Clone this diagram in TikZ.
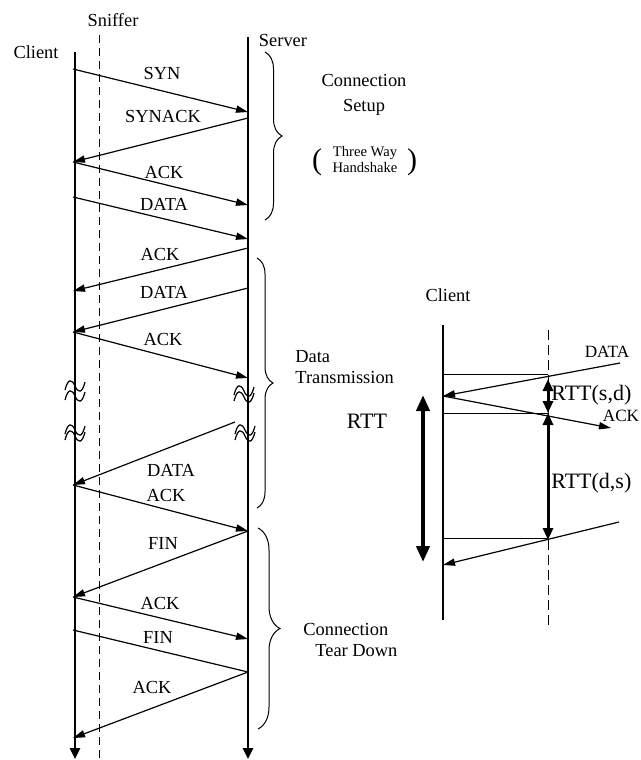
\documentclass[tikz,border=0pt]{standalone}
\usepackage{fontspec}
\setmainfont{Liberation Serif}
\usetikzlibrary{arrows.meta,decorations.pathreplacing}

\tikzset{
  lifeline/.style={line width=1.3pt,-{Triangle[length=5.5pt,width=5pt]}},
  sniff/.style={line width=0.5pt,dash pattern=on 4pt off 2.5pt},
  msg/.style={line width=0.6pt,-{Triangle[length=6pt,width=3.6pt]}},
  msglabel/.style={font=\fontsize{9.2}{11}\selectfont,inner sep=0pt},
  rttlabel/.style={font=\fontsize{11}{13}\selectfont,inner sep=0pt},
  phase/.style={line width=0.5pt,decorate,decoration={brace,amplitude=#1}},
  rttarrow/.style={line width=1.5pt,{Triangle[length=6pt,width=5pt]}-{Triangle[length=6pt,width=5pt]}},
  pics/cut/.style={code={\draw[line width=0.6pt] (-10,4) .. controls (-7,-8) and (-3,-7) .. (0,0) .. controls (3,7) and (7,8) .. (10,-4);}}
}

\begin{document}
\begin{tikzpicture}[x=0.5pt,y=-0.5pt]
  \useasboundingbox (0,0) rectangle (641,760);
  % lifelines
  \node[msglabel] (sniffer) at (113,20) {Sniffer};
  \node[msglabel] (client) at (36,52) {Client};
  \node[msglabel] (server) at (283,40) {Server};
  \coordinate (ctop) at (75,52);
  \coordinate (cbot) at (75,759);
  \coordinate (stop) at (248,37);
  \coordinate (sbot) at (248,759);
  \coordinate (ftop) at (99,35);
  \coordinate (fbot) at (99,760);
  \draw[sniff] (ftop) -- (fbot);
  \draw[lifeline] (ctop) -- (cbot);
  \draw[lifeline] (stop) -- (sbot);
  % message end points
  \foreach \n/\y in {c1/69,c2/162,c3/197,c4/291,c5/332,c6/485,c7/597,c8/630,c9/738}
    \coordinate (\n) at (73,\y);
  \foreach \n/\y in {s1/112,s2/118,s3/205,s4/239,s5/248,s6/288,s7/378,s9/531,s10/639,s11/672}
    \coordinate (\n) at (248,\y);
  \coordinate (s8) at (235,422);
  \foreach \a/\b in {c1/s1,s2/c2,c2/s3,c3/s4,s5/c4,s6/c5,c5/s7,s8/c6,c6/s9,s9/c7,c7/s10,s11/c9}
    \draw[msg] (\a) -- (\b);
  \draw[msg,-] (c8) -- (s11);
  \foreach \t/\x/\y [count=\i] in {SYN/162/73,SYNACK/163/116,ACK/164/172,DATA/164/204,
      ACK/160/254,DATA/164/292,ACK/163/339,DATA/171/470,ACK/166/495,FIN/163/543,
      ACK/160/603,FIN/158/637,ACK/152/687}
    \node[msglabel] (m\i) at (\x,\y) {\t};
  % breaks
  \foreach \x/\y in {75/386,75/396,75/430,75/436,244/391,244/397,245/430,245/436}
    \pic at (\x,\y) {cut};
  % phases
  \draw[phase=8.5pt] (265,52) -- (265,220);
  \draw[phase=8pt] (257,258) -- (257,508);
  \draw[phase=11pt] (258,528) -- (258,729);
  \node[font=\fontsize{9.2}{12.5}\selectfont,inner sep=0pt,align=center] (setup) at (364,95) {Connection\\Setup};
  \node[font=\fontsize{7.3}{8}\selectfont,inner sep=0pt,align=center] (handshake) at (365,160) {Three Way\\Handshake};
  \node[font=\fontsize{15}{15}\selectfont,inner sep=0pt] (lpar) at (317,162) {(};
  \node[font=\fontsize{15}{15}\selectfont,inner sep=0pt] (rpar) at (412,162) {)};
  \node[font=\fontsize{9.2}{10.5}\selectfont,inner sep=0pt,align=left,anchor=west] (transfer) at (295,367) {Data\\Transmission};
  \node[font=\fontsize{9.2}{10.5}\selectfont,inner sep=0pt,align=left,anchor=west] (teardown) at (303,640) {Connection\\\hspace{6pt}Tear Down};
  % RTT estimation
  \node[msglabel] (client2) at (448,295) {Client};
  \coordinate (ktop) at (443,325);
  \coordinate (kbot) at (443,620);
  \coordinate (dtop) at (548,330);
  \coordinate (dbot) at (548,627);
  \draw[line width=1pt] (ktop) -- (kbot);
  \draw[line width=0.5pt,dash pattern=on 5pt off 2.5pt] (dtop) -- (dbot);
  \foreach \n/\y in {k1/374,k2/396,k3/413,k4/538,k5/565}
    \coordinate (\n) at (443,\y);
  \foreach \n/\y in {d1/374,d2/379,d3/413,d4/538,d5/540}
    \coordinate (\n) at (548,\y);
  \coordinate (din) at (620,363);
  \coordinate (aout) at (611,428);
  \coordinate (din2) at (619,522);
  \draw[line width=0.5pt] (k1) -- (d1);
  \draw[line width=0.5pt] (k3) -- (d3);
  \draw[line width=0.5pt] (k4) -- (d4);
  \draw[msg] (din) -- (k2);
  \draw[msg] (k2) -- (aout);
  \draw[msg] (din2) -- (k5);
  \draw[rttarrow] (d2) -- (d3);
  \draw[rttarrow] (d3) -- (d5);
  \coordinate (rtop) at (423,395);
  \coordinate (rbot) at (423,562);
  \draw[line width=2pt,{Triangle[length=8pt,width=6.5pt]}-{Triangle[length=8pt,width=6.5pt]}] (rtop) -- (rbot);
  \node[font=\fontsize{8.6}{10}\selectfont,inner sep=0pt] (data2) at (607,352) {DATA};
  \node[font=\fontsize{8.6}{10}\selectfont,inner sep=0pt] (ack2) at (621,416) {ACK};
  \node[rttlabel,anchor=west] (rttsd) at (551,395) {RTT(s,d)};
  \node[rttlabel,anchor=west] (rttds) at (551,483) {RTT(d,s)};
  \node[rttlabel] (rtt) at (367,421) {RTT};
\end{tikzpicture}
\end{document}
